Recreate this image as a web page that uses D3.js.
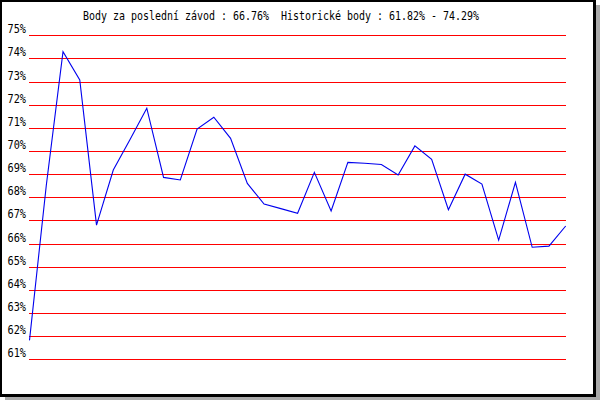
<!DOCTYPE html>
<html>
<head>
<meta charset="utf-8">
<script src="https://cdn.jsdelivr.net/npm/d3@7"></script>
<style>
  html, body { margin: 0; padding: 0; background: #fff; }
  svg { display: block; }
  text.title { white-space: pre; }
</style>
</head>
<body>
<svg id="chart" width="600" height="400"></svg>
<script>
const titleText = "Body za poslední závod : 66.76%  Historické body : 61.82% - 74.29%";
const yTicks = [61, 62, 63, 64, 65, 66, 67, 68, 69, 70, 71, 72, 73, 74, 75];
const races = d3.range(1, 34);
const points = [61.82, 68.5, 74.29, 73.07, 66.8, 69.18, 70.5, 71.85, 68.86, 68.75,
                70.95, 71.46, 70.55, 68.6, 67.71, 67.51, 67.31, 69.08, 67.41, 69.51,
                69.47, 69.42, 68.96, 70.22, 69.64, 67.46, 69.0, 68.57, 66.15, 68.65,
                65.84, 65.89, 66.76];

const svg = d3.select("#chart");

// frame with shadow
svg.append("rect").attr("x", 5).attr("y", 5).attr("width", 595).attr("height", 395).attr("fill", "#aaaaaa");
svg.append("rect").attr("x", 0).attr("y", 0).attr("width", 596).attr("height", 397).attr("fill", "#000");
svg.append("rect").attr("x", 2).attr("y", 2).attr("width", 591).attr("height", 392).attr("fill", "#fff");

const x = d3.scaleLinear().domain([1, races.length]).range([29.5, 565.7]);
const y = d3.scaleLinear().domain([61, 75]).range([359.3, 35.3]);

// title
svg.append("text")
  .attr("class", "title")
  .attr("xml:space", "preserve")
  .attr("x", 83).attr("y", 20)
  .attr("font-family", "DejaVu Sans Mono, monospace")
  .attr("font-size", 12)
  .attr("textLength", 396)
  .attr("lengthAdjust", "spacingAndGlyphs")
  .attr("fill", "#000")
  .text(titleText);

// grid
const grid = svg.append("g");
grid.selectAll("line").data(yTicks).join("line")
  .attr("x1", 29).attr("x2", 566)
  .attr("y1", d => Math.round(y(d)) + 0.5)
  .attr("y2", d => Math.round(y(d)) + 0.5)
  .attr("stroke", "#ff0000").attr("stroke-width", 1)
  .attr("shape-rendering", "crispEdges");

// y labels via axis
const yAxis = d3.axisLeft(y).tickValues(yTicks).tickFormat(d => d + "%").tickSize(0).tickPadding(0);
const ag = svg.append("g").attr("transform", "translate(26,0)").call(yAxis);
ag.select(".domain").remove();
ag.selectAll("text")
  .attr("font-family", "DejaVu Sans Mono, monospace")
  .attr("font-size", 12.5)
  .attr("fill", "#000")
  .attr("dy", null)
  .attr("y", -2.5)
  .attr("textLength", 18.5)
  .attr("lengthAdjust", "spacingAndGlyphs");

// line
const line = d3.line().x((d, i) => x(races[i])).y(d => y(d));
svg.append("path")
  .datum(points)
  .attr("d", line)
  .attr("fill", "none")
  .attr("stroke", "#0000ee")
  .attr("stroke-width", 1.1);
</script>
</body>
</html>
